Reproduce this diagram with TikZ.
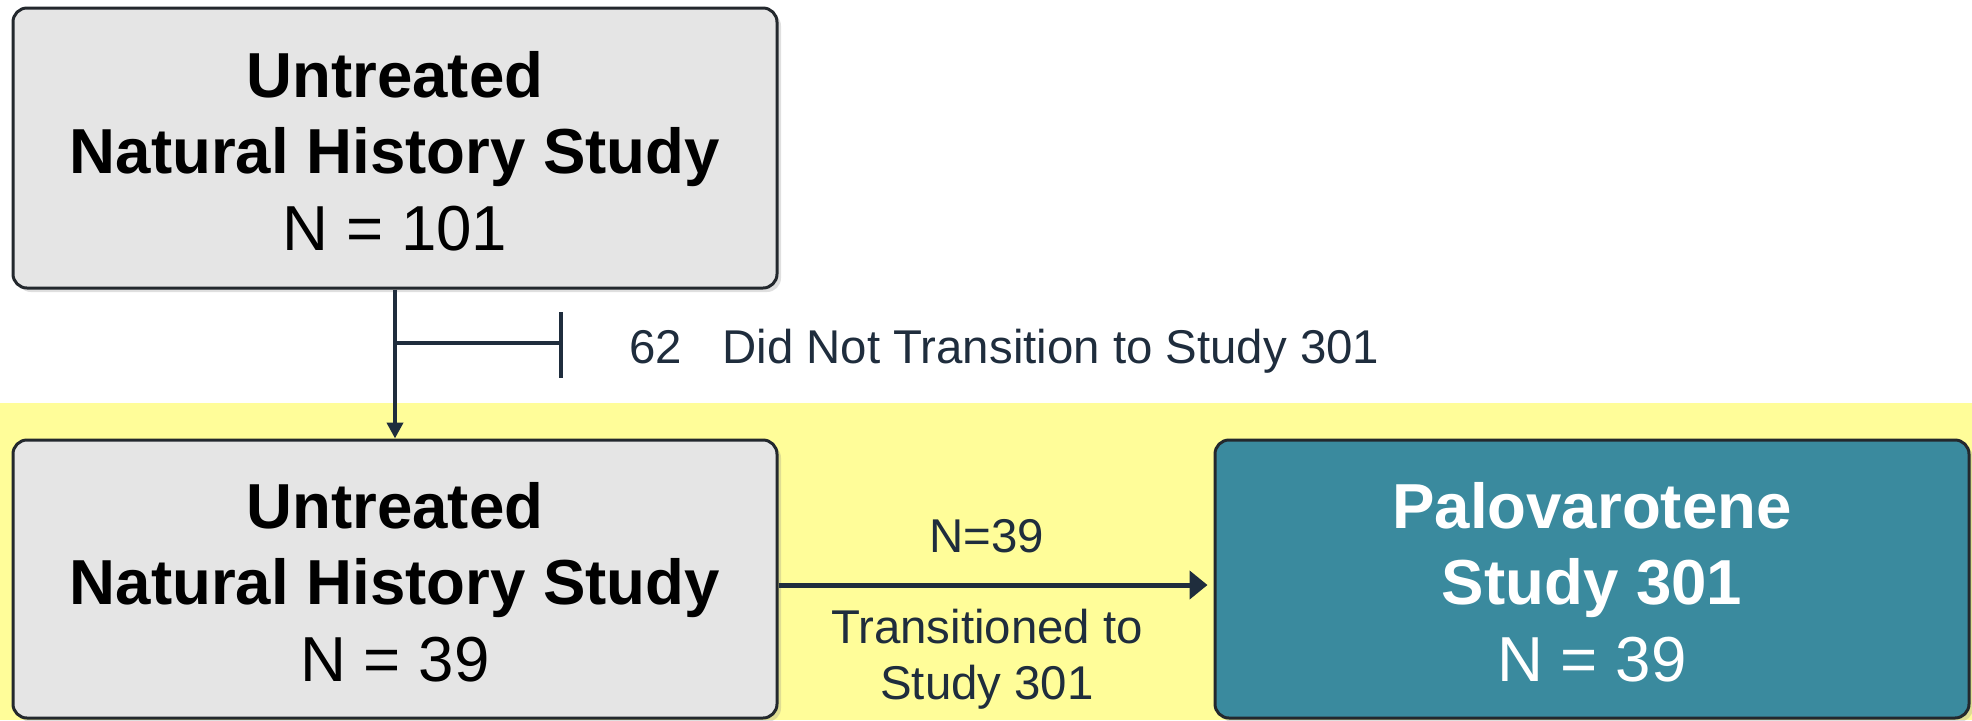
\documentclass[tikz,border=0pt]{standalone}
\usepackage{fontspec}
\setmainfont{Liberation Sans}
\usetikzlibrary{arrows.meta,shadows}
\definecolor{ink}{RGB}{31,45,61}
\definecolor{boxgray}{RGB}{229,229,229}
\definecolor{teal301}{RGB}{58,138,158}
\definecolor{band}{RGB}{255,253,153}
\definecolor{edge}{RGB}{35,40,45}
\newcommand{\lift}{\rule{0pt}{26pt}}
\tikzset{
  flowbox/.style={draw=edge, line width=1.5pt, rounded corners=7pt, align=center,
    inner sep=0pt, font=\fontsize{31.8pt}{38.3pt}\selectfont,
    drop shadow={opacity=0.25, shadow xshift=2pt, shadow yshift=-2pt}},
  graybox/.style={flowbox, fill=boxgray, text=black},
  tealbox/.style={flowbox, fill=teal301, text=white},
  smalltext/.style={font=\fontsize{23.7pt}{28pt}\selectfont, text=ink, inner sep=0pt, align=center},
  conn/.style={draw=ink, line width=2pt},
}
\begin{document}
\begin{tikzpicture}[x=0.5pt,y=-0.5pt]
  \useasboundingbox (0,0) rectangle (1972,720);
  \fill[band] (0,403) rectangle (1972,720);

  \node[graybox, minimum width=382pt, minimum height=140pt] (top) at (395,148)
    {\lift\textbf{Untreated}\\\textbf{Natural History Study}\\N = 101};
  \node[graybox, minimum width=382pt, minimum height=139pt] (nhs) at (395,579)
    {\lift\textbf{Untreated}\\\textbf{Natural History Study}\\N = 39};
  \node[tealbox, minimum width=377pt, minimum height=139pt] (pal) at (1592,579)
    {\lift\textbf{Palovarotene}\\\textbf{Study 301}\\N = 39};

  \coordinate (split) at (396,343);
  \coordinate (stop) at (561,343);
  \coordinate (stoptop) at (561,312);
  \coordinate (stopbot) at (561,378);

  \draw[conn, -{Triangle[length=8pt,width=8pt]}] (top.south) -- (nhs.north);
  \draw[conn] (split) -- (stop);
  \draw[conn, line width=1.6pt] (stoptop) -- (stopbot);
  \node[smalltext, anchor=base west] (drop) at (629,363)
    {62\hspace{0.85em}Did Not Transition to Study 301};

  \draw[conn, line width=2.5pt, shorten >=3pt, -{Triangle[length=9pt,width=14pt]}]
    ([yshift=-3pt]nhs.east) -- ([yshift=-3pt]pal.west);
  \node[smalltext, anchor=base] (n39) at (987,552) {N=39};
  \node[smalltext, anchor=north] (trans) at (987,609) {Transitioned to\\Study 301};
\end{tikzpicture}
\end{document}
